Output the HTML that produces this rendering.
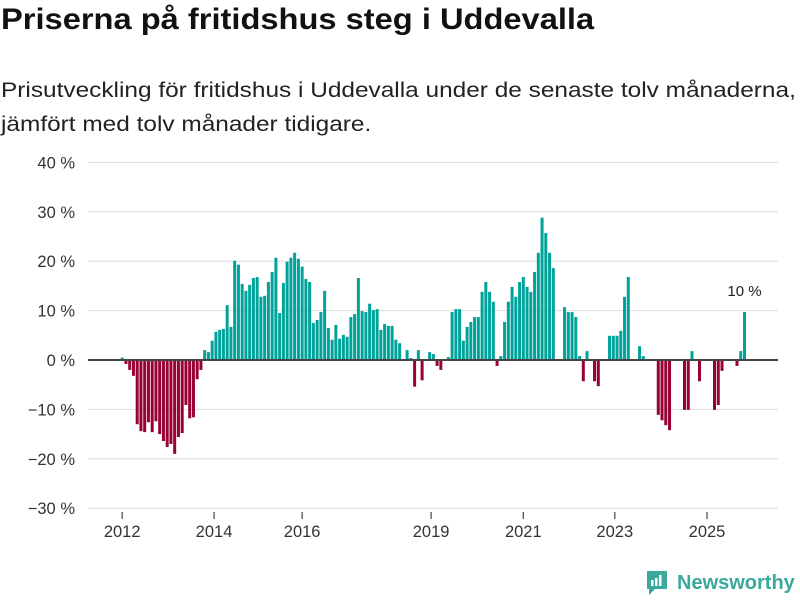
<!DOCTYPE html>
<html><head><meta charset="utf-8"><style>
body{margin:0;width:800px;height:600px;background:#fff;font-family:"Liberation Sans",sans-serif;overflow:hidden;position:relative}
#title{position:absolute;left:1px;top:3px;font-size:30px;font-weight:bold;color:#111;transform:scaleX(1.088);transform-origin:left top;white-space:nowrap}
#sub{position:absolute;left:1px;top:73px;font-size:21.5px;line-height:34px;color:#222;transform:scaleX(1.135);transform-origin:left top;white-space:nowrap}
svg{position:absolute;left:0;top:0}
</style></head><body>
<div id="title">Priserna på fritidshus steg i Uddevalla</div>
<div id="sub">Prisutveckling för fritidshus i Uddevalla under de senaste tolv månaderna,<br>jämfört med tolv månader tidigare.</div>
<svg id="chart" width="800" height="600"></svg>
<div style="position:absolute;left:645px;top:569px;display:flex;align-items:center;">
<svg width="24" height="28" style="position:static"><path d="M2 2h20v18h-12l-6 6v-6h-2z" fill="#3aa89a"/><rect x="6" y="11" width="2.5" height="6" fill="#fff"/><rect x="10" y="9" width="2.5" height="8" fill="#fff"/><rect x="14" y="6" width="2.5" height="11" fill="#fff"/></svg>
<span style="font-size:20px;font-weight:bold;color:#3aa89a;margin-left:8px">Newsworthy</span></div>
<script>
const values=[0.5,-0.8,-2,-3.2,-13,-14.4,-14.6,-12.6,-14.6,-12.4,-15,-16.4,-17.6,-17,-19,-15.6,-14.8,-9.1,-11.8,-11.6,-3.9,-2,2,1.6,3.9,5.7,6.1,6.3,11.1,6.7,20.1,19.3,15.4,14,15.2,16.6,16.8,12.8,13,15.8,17.8,20.7,9.5,
15.6,19.9,20.7,21.7,20.5,18.9,16.4,15.8,7.5,8.1,9.7,14,6.5,4.1,7.1,4.3,5.1,4.7,8.7,9.3,16.6,9.9,9.7,11.4,10.1,10.3,6.1,7.3,6.9,6.9,4.1,3.4,0,2,0.4,-5.4,2,-4.1,0,1.6,1.2,-1.2,-2,
0,0.6,9.7,10.3,10.3,3.9,6.7,7.7,8.7,8.7,13.8,15.8,13.8,11.8,-1.2,0.8,7.7,11.8,14.8,12.8,15.8,16.8,14.8,13.8,17.8,21.7,28.8,25.7,21.7,18.6,0,0,10.7,9.7,9.7,8.7,0.8,-4.3,1.8,0,-4.3,-5.3,
0,0,4.9,4.9,4.9,5.9,12.8,16.8,0,0,2.8,0.8,0,0,0,-11.1,-12.2,-13.2,-14.2,0,0,0,-10.1,-10.1,1.8,0,-4.3,0,0,0,-10.1,-9.1,-2.2,0,0,0,-1.2,1.8,9.7];
const yTicks=[40,30,20,10,0,-10,-20,-30];
const xTickLabels=["2012","2014","2016","2019","2021","2023","2025"];
const xTickIdx=[0,24.5,48,82.4,107,131.4,156];
const lastLabel="10 %";
const svg=document.getElementById('chart');const NS='http://www.w3.org/2000/svg';
const y=v=>360-v*4.94;
const slot=(744.5-122.2)/(values.length-1);
const x=i=>122.2+i*slot;
function mk(t,a){const e=document.createElementNS(NS,t);for(const k in a)e.setAttribute(k,a[k]);svg.appendChild(e);return e;}
yTicks.forEach(t=>{
 const l=mk('line',{x1:88,x2:778,y1:y(t),y2:y(t),stroke:'#ddd','stroke-width':1});
 
 
 const tx=mk('text',{x:75,y:y(t)+6,'text-anchor':'end','font-size':16.5,fill:'#333','font-family':'Liberation Sans'});
 tx.textContent=(t<0?'\u2212'+(-t):t)+' %';
 
 
});
values.forEach((v,i)=>{
 if(v===0)return;
 const r=mk('rect',{x:x(i)-1.5,width:3,y:Math.min(y(v),y(0)),height:Math.abs(y(v)-y(0)),fill:v>0?'#00a39a':'#990033'});
 
 
});
const z=mk('line',{x1:88,x2:778,y1:y(0),y2:y(0),stroke:'#444','stroke-width':2});


xTickIdx.forEach((ix,k)=>{
 const l=mk('line',{x1:x(ix),x2:x(ix),y1:512,y2:519,stroke:'#444','stroke-width':1.2});
 
 
 const t=mk('text',{x:x(ix),y:537,'text-anchor':'middle','font-size':16.5,fill:'#333','font-family':'Liberation Sans'});
 t.textContent=xTickLabels[k];
 
 
});
const li=values.length-1;
const lt=mk('text',{x:x(li),y:y(values[li])-16,'text-anchor':'middle','font-size':15,fill:'#222','font-family':'Liberation Sans'});
lt.textContent=lastLabel;


</script>
</body></html>
